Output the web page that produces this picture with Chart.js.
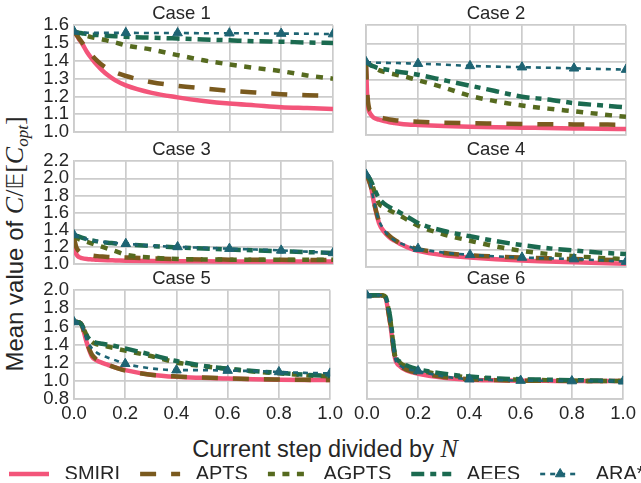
<!DOCTYPE html>
<html>
<head>
<meta charset="utf-8">
<script src="https://cdn.jsdelivr.net/npm/chart.js@4.4.0/dist/chart.umd.min.js"></script>
<style>
  html, body { margin: 0; padding: 0; background: #fff; }
  #fig { position: relative; width: 641px; height: 483px; overflow: hidden;
         font-family: "Liberation Sans", Arial, sans-serif; color: #262626; }
  .panel { position: absolute; }
  .lbl { position: absolute; white-space: nowrap; font-size: 23.5px; line-height: 28px; }
  #ylab { font-size: 24px; }
  .m { font-family: "Liberation Serif", "DejaVu Serif", serif; font-style: italic; font-size: 26px; }
  .r { font-family: "Liberation Serif", "DejaVu Serif", serif; font-size: 26px; }
  .bb { font-family: "DejaVu Sans", serif; font-size: 23px; }
  sub.m { font-size: 17px; vertical-align: -5px; }
  #ylab { left: 19px; top: 244px; transform: translate(-50%, -50%) rotate(-90deg); }
  #xlab { left: 325px; top: 449px; transform: translate(-50%, -50%); }
</style>
</head>
<body>
<div id="fig">
  <div class="lbl" id="ylab">Mean value of <span class="m">C</span><span class="r">/</span><span class="bb">𝔼</span><span class="r">[</span><span class="m">C</span><sub class="m">opt</sub><span class="r">]</span></div>
  <div class="lbl" id="xlab">Current step divided by <span class="m">N</span></div>
</div>
<script>
// x positions (current step / N) shared by every curve
const stepX = [0, 0.005, 0.01, 0.02, 0.03, 0.05, 0.07, 0.09, 0.11, 0.13, 0.16, 0.2, 0.3, 0.4, 0.5, 0.6, 0.7, 0.8, 0.9, 1.0];
const markerX = [0, 0.2, 0.4, 0.6, 0.8, 1.0];

const caseNames = ['Case 1', 'Case 2', 'Case 3', 'Case 4', 'Case 5', 'Case 6'];
const yMin = [1.0, 1.0, 1.0, 1.0, 0.8, 0.8];
const yMax = [1.6, 1.6, 2.2, 2.2, 2.0, 2.0];
const yStep = [0.1, 0.1, 0.2, 0.2, 0.2, 0.2];

const methods = ['SMIRI', 'APTS', 'AGPTS', 'AEES', 'ARA*'];

// one row per case
const smiri = [
  [1.565,1.555,1.545,1.52,1.50,1.45,1.41,1.375,1.345,1.32,1.29,1.262,1.22,1.195,1.175,1.16,1.15,1.14,1.135,1.13],
  [1.39,1.20,1.14,1.11,1.095,1.085,1.077,1.071,1.067,1.063,1.059,1.056,1.05,1.046,1.043,1.041,1.039,1.037,1.035,1.034],
  [1.22,1.15,1.11,1.08,1.07,1.06,1.055,1.05,1.047,1.045,1.043,1.04,1.036,1.034,1.032,1.031,1.03,1.03,1.03,1.03],
  [2.05,2.03,1.99,1.90,1.74,1.50,1.40,1.34,1.30,1.265,1.225,1.185,1.135,1.11,1.09,1.075,1.065,1.055,1.047,1.04],
  [1.65,1.65,1.65,1.645,1.62,1.42,1.27,1.225,1.20,1.18,1.15,1.12,1.07,1.046,1.035,1.027,1.02,1.015,1.012,1.01],
  [1.945,1.945,1.945,1.945,1.945,1.945,1.93,1.65,1.25,1.16,1.11,1.08,1.035,1.015,1.008,1.004,1.002,1.0,1.0,1.0]
];
const apts = [
  [1.565,1.555,1.545,1.525,1.505,1.465,1.43,1.40,1.375,1.355,1.335,1.315,1.28,1.26,1.245,1.232,1.222,1.213,1.207,1.203],
  [1.39,1.23,1.16,1.13,1.115,1.10,1.092,1.086,1.082,1.079,1.076,1.073,1.068,1.065,1.063,1.061,1.06,1.059,1.058,1.057],
  [1.32,1.24,1.19,1.15,1.13,1.11,1.10,1.093,1.088,1.084,1.08,1.076,1.066,1.058,1.054,1.052,1.05,1.05,1.048,1.047],
  [2.05,2.03,1.99,1.90,1.75,1.52,1.42,1.355,1.31,1.275,1.24,1.205,1.16,1.135,1.12,1.11,1.10,1.092,1.085,1.08],
  [1.65,1.65,1.65,1.645,1.62,1.43,1.29,1.235,1.205,1.18,1.15,1.115,1.07,1.05,1.04,1.03,1.022,1.017,1.013,1.01],
  [1.945,1.945,1.945,1.945,1.945,1.945,1.93,1.66,1.26,1.17,1.12,1.09,1.045,1.02,1.01,1.005,1.003,1.001,1.0,1.0]
];
const agpts = [
  [1.565,1.563,1.56,1.555,1.55,1.54,1.532,1.526,1.52,1.513,1.503,1.487,1.463,1.432,1.403,1.38,1.36,1.342,1.318,1.30],
  [1.40,1.395,1.39,1.38,1.37,1.355,1.345,1.338,1.332,1.326,1.316,1.30,1.26,1.215,1.185,1.162,1.145,1.13,1.115,1.10],
  [1.33,1.32,1.31,1.29,1.28,1.26,1.24,1.22,1.20,1.18,1.15,1.11,1.075,1.06,1.055,1.052,1.05,1.05,1.05,1.05],
  [2.05,2.04,2.02,1.96,1.88,1.72,1.68,1.645,1.615,1.585,1.535,1.47,1.37,1.30,1.235,1.185,1.15,1.125,1.105,1.09],
  [1.65,1.65,1.65,1.645,1.62,1.50,1.43,1.405,1.395,1.38,1.36,1.335,1.275,1.205,1.165,1.135,1.105,1.085,1.065,1.05],
  [1.945,1.945,1.945,1.945,1.945,1.945,1.935,1.70,1.28,1.20,1.155,1.12,1.07,1.04,1.025,1.015,1.01,1.005,1.0,1.0]
];
const aees = [
  [1.565,1.563,1.56,1.557,1.555,1.55,1.547,1.545,1.543,1.541,1.538,1.535,1.53,1.525,1.52,1.515,1.51,1.507,1.503,1.50],
  [1.40,1.395,1.39,1.38,1.375,1.365,1.36,1.355,1.35,1.345,1.34,1.33,1.30,1.27,1.24,1.21,1.195,1.175,1.163,1.152],
  [1.34,1.335,1.33,1.32,1.31,1.29,1.275,1.265,1.255,1.25,1.24,1.23,1.21,1.195,1.183,1.17,1.16,1.15,1.14,1.13],
  [2.05,2.04,2.02,1.97,1.90,1.78,1.72,1.68,1.65,1.62,1.57,1.50,1.41,1.35,1.295,1.25,1.215,1.19,1.165,1.15],
  [1.65,1.65,1.65,1.645,1.62,1.50,1.44,1.42,1.41,1.40,1.385,1.36,1.29,1.22,1.17,1.135,1.11,1.09,1.07,1.055],
  [1.945,1.945,1.945,1.945,1.945,1.945,1.935,1.72,1.29,1.21,1.165,1.13,1.08,1.05,1.03,1.02,1.015,1.01,1.005,1.0]
];
const ara = [
  [1.565,1.563,1.562,1.56,1.559,1.558,1.558,1.557,1.557,1.557,1.557,1.557,1.556,1.556,1.555,1.555,1.554,1.553,1.552,1.55],
  [1.40,1.399,1.398,1.397,1.396,1.395,1.395,1.394,1.394,1.393,1.392,1.39,1.385,1.378,1.374,1.371,1.368,1.365,1.361,1.358],
  [1.34,1.335,1.33,1.32,1.31,1.29,1.278,1.268,1.26,1.254,1.246,1.237,1.215,1.20,1.19,1.18,1.17,1.16,1.145,1.13],
  [2.05,2.03,1.99,1.90,1.75,1.53,1.42,1.35,1.305,1.275,1.24,1.21,1.165,1.14,1.123,1.11,1.10,1.092,1.078,1.063],
  [1.65,1.65,1.65,1.645,1.62,1.45,1.36,1.31,1.28,1.26,1.23,1.19,1.14,1.12,1.12,1.115,1.11,1.10,1.09,1.085],
  [1.945,1.945,1.945,1.945,1.945,1.945,1.93,1.65,1.25,1.17,1.13,1.11,1.05,1.02,1.01,1.005,1.003,1.0,1.0,0.997]
];
const seriesValues = [smiri, apts, agpts, aees, ara];

// styles
const lineColors = ['#f3557a', '#7a5a1e', '#566a1f', '#1b6a50', '#1e6473'];
const lineWidths = [4.5, 4.5, 4.5, 4.5, 2.6];
const lineDashes = [[], [16, 15], [7, 7.5], [13, 6, 6, 6], [5, 5]];

// panel geometry (pixels of the plot areas)
const plotLeft = [74, 366];
const plotRight = [333, 626];
const plotTop = [25, 161, 290];
const plotBottom = [135, 267, 399];
const gridColor = '#cccccc';
const textColor = '#262626';
const titleSize = 18.5;
const tickSize = 18.5;

Chart.defaults.font.family = '"Liberation Sans", Arial, sans-serif';
Chart.defaults.color = textColor;

function addPanel(k) {
  const row = Math.floor(k / 2), col = k % 2;
  const titleH = titleSize * 1.2;
  const padL = col ? 16 : 0, padR = 14, padB = row < 2 ? 13 : 4;
  const yw = col ? 0 : 44;
  const xh = row === 2 ? 26 : 0;
  const left = plotLeft[col] - yw - padL;
  const top = plotTop[row] - titleH;
  const width = plotRight[col] + padR - left;
  const height = plotBottom[row] + xh + padB - top;

  const box = document.createElement('div');
  box.className = 'panel';
  box.style.left = left + 'px';
  box.style.top = top + 'px';
  box.style.width = width + 'px';
  box.style.height = height + 'px';
  const cv = document.createElement('canvas');
  box.appendChild(cv);
  document.getElementById('fig').appendChild(box);

  const datasets = methods.map((name, i) => ({
    label: name,
    data: stepX.map((x, j) => ({x: x, y: seriesValues[i][k][j]})),
    borderColor: lineColors[i],
    backgroundColor: lineColors[i],
    borderWidth: lineWidths[i],
    borderDash: lineDashes[i],
    cubicInterpolationMode: 'monotone',
    pointStyle: 'triangle',
    pointRadius: i === 4 ? (c => markerX.includes(stepX[c.dataIndex]) ? 5.5 : 0) : 0,
    pointBorderWidth: 1,
    order: 4 - i,
    clip: 0
  }));

  new Chart(cv, {
    type: 'line',
    data: {datasets: datasets},
    options: {
      responsive: true,
      maintainAspectRatio: false,
      animation: false,
      layout: {padding: {left: padL, right: padR, top: 0, bottom: padB}},
      plugins: {
        legend: {display: false},
        tooltip: {enabled: false},
        title: {display: true, text: caseNames[k], color: textColor,
                font: {size: titleSize, weight: 'normal'}, padding: {top: 0, bottom: 0}}
      },
      scales: {
        x: {
          type: 'linear', min: 0, max: 1,
          ticks: {display: row === 2, stepSize: 0.2, autoSkip: false, maxRotation: 0,
                  padding: 4, color: textColor, font: {size: tickSize}, callback: v => v.toFixed(1)},
          grid: {color: gridColor, lineWidth: 1.7, drawTicks: false},
          border: {color: gridColor, width: 1.7},
          afterFit: s => { s.height = xh; }
        },
        y: {
          min: yMin[k], max: yMax[k],
          ticks: {display: col === 0, stepSize: yStep[k], autoSkip: false,
                  padding: 5, color: textColor, font: {size: tickSize}, callback: v => v.toFixed(1)},
          grid: {color: gridColor, lineWidth: 1.7, drawTicks: false},
          border: {color: gridColor, width: 1.7},
          afterFit: s => { s.width = yw; }
        }
      }
    }
  });
}

for (let k = 0; k < 6; k++) addPanel(k);

// legend strip along the bottom
const legendLineW = 40;
const legendMarker = {
  id: 'legendMarker',
  afterDraw(chart) {
    const hit = chart.legend.legendHitBoxes[4];
    if (!hit) return;
    const ctx = chart.ctx;
    ctx.save();
    ctx.setLineDash([]);
    ctx.lineWidth = 1;
    ctx.fillStyle = lineColors[4];
    ctx.strokeStyle = lineColors[4];
    Chart.helpers.drawPoint(ctx, {pointStyle: 'triangle', radius: 5.5, borderWidth: 1, rotation: 0},
      hit.left + legendLineW / 2, hit.top + hit.height / 2);
    ctx.restore();
  }
};

const legendBox = document.createElement('div');
legendBox.className = 'panel';
legendBox.style.left = '-11px';
legendBox.style.top = '444px';
legendBox.style.width = '720px';
legendBox.style.height = '70px';
const legendCv = document.createElement('canvas');
legendBox.appendChild(legendCv);
document.getElementById('fig').appendChild(legendBox);

new Chart(legendCv, {
  type: 'line',
  data: {datasets: methods.map((name, i) => ({
    label: name, data: [],
    borderColor: lineColors[i], backgroundColor: lineColors[i],
    borderWidth: lineWidths[i], borderDash: lineDashes[i]
  }))},
  options: {
    responsive: true, maintainAspectRatio: false, animation: false,
    layout: {padding: 0},
    scales: {x: {display: false}, y: {display: false}},
    plugins: {
      tooltip: {enabled: false},
      legend: {
        display: true, position: 'top', align: 'start',
        labels: {
          usePointStyle: true, pointStyleWidth: legendLineW,
          padding: 20, color: textColor, font: {size: 20},
          generateLabels: chart => methods.map((name, i) => ({
            text: ' ' + name,
            fillStyle: lineColors[i],
            strokeStyle: lineColors[i],
            fontColor: textColor,
            lineWidth: lineWidths[i],
            lineDash: lineDashes[i],
            lineCap: 'butt',
            pointStyle: 'line',
            rotation: 0,
            hidden: false,
            datasetIndex: i
          }))
        }
      }
    }
  },
  plugins: [legendMarker]
});
</script>
</body>
</html>
